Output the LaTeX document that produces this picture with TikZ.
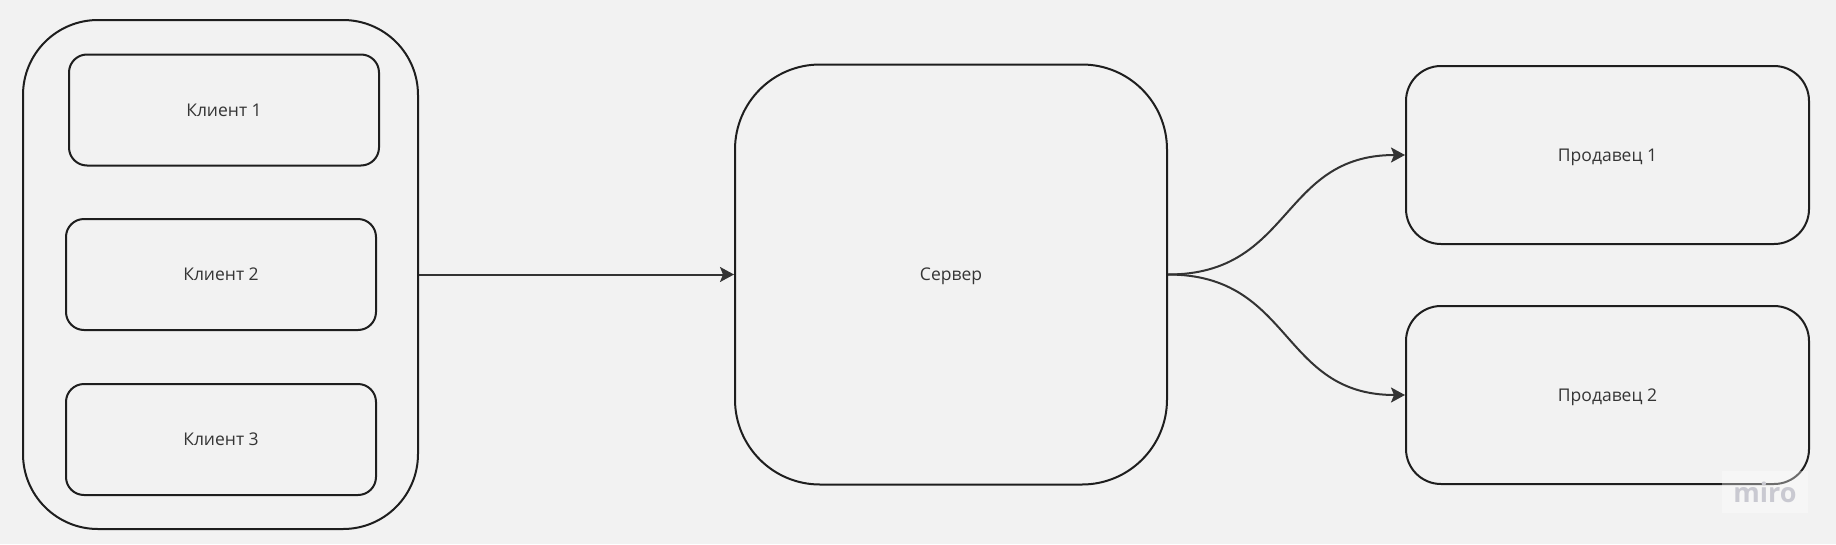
\documentclass[tikz,border=0pt]{standalone}
\usepackage{fontspec}
\setmainfont{Open Sans}
\usetikzlibrary{arrows.meta}
\definecolor{PaperColor}{HTML}{F2F2F2}
\definecolor{BorderColor}{HTML}{1E1E1E}
\definecolor{LineColor}{HTML}{333333}
\definecolor{TextColor}{HTML}{353535}
\definecolor{MiroColor}{HTML}{C9C9D1}
\tikzstyle{group_box}=[rectangle,
                         minimum width=395pt,
                         minimum height=509pt,
                         draw=BorderColor,
                         line width=2pt,
                         rounded corners=75pt, ]
\tikzstyle{client_box}=[rectangle,
                          minimum width=310pt,
                          minimum height=111pt,
                          draw=BorderColor,
                          line width=2pt,
                          text=TextColor,
                          text height=12.5pt,
                          text depth=0pt,
                          rounded corners=18pt, ]
\tikzstyle{server_box}=[rectangle,
                          minimum width=432pt,
                          minimum height=420pt,
                          draw=BorderColor,
                          line width=2pt,
                          text=TextColor,
                          text height=12.5pt,
                          text depth=0pt,
                          rounded corners=85pt, ]
\tikzstyle{seller_box}=[rectangle,
                          minimum width=403pt,
                          minimum height=178pt,
                          draw=BorderColor,
                          line width=2pt,
                          text=TextColor,
                          text height=12.5pt,
                          text depth=0pt,
                          rounded corners=35pt, ]
\tikzstyle{link}=[draw=LineColor,
                    line width=2pt,
                    -{Stealth[length=14pt,width=15pt,inset=3pt]}, ]

\begin{document}
\begin{tikzpicture}[x=1pt, y=-1pt, font=\fontsize{17.5}{20}\selectfont]
    \fill[PaperColor] (0,0) rectangle (1836,544);
    \useasboundingbox (0,0) rectangle (1836,544);

    \node at (220.5, 274.5) (clients) [group_box] {};
    \foreach \i/\x/\y in {1/224/110, 2/221/274.5, 3/221/439.5} {
      \node at (\x, \y) (client_\i) [client_box] {Клиент \i};
    }

    \node at (951, 274.5) (server) [server_box] {Сервер};

    \foreach \i/\y in {1/155, 2/395} {
      \node at (1607.5, \y) (seller_\i) [seller_box] {Продавец \i};
    }

    \draw[link] (clients.east) -- (server.west);
    \foreach \i in {1,2} {
      \draw[link] (server.east) .. controls +(125,0) and +(-125,0) .. (seller_\i.west);
    }

    \node at (1765, 492) (miro) [fill=white, fill opacity=0.35, text opacity=1,
                                  minimum width=86pt, minimum height=42pt, text=MiroColor,
                                  font=\fontsize{27}{30}\selectfont\bfseries] {miro};
  \end{tikzpicture}
\end{document}
